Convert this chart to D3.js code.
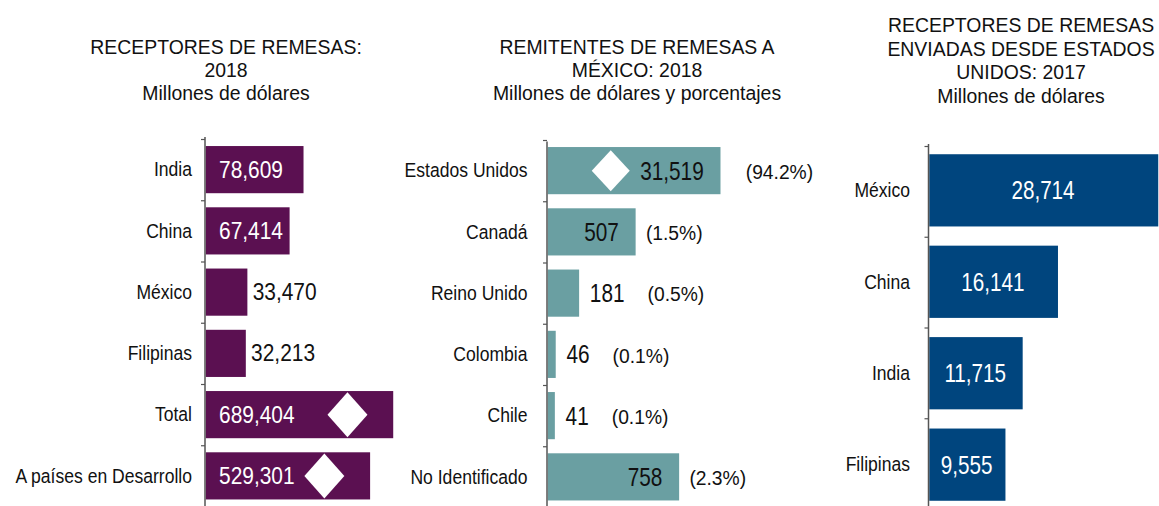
<!DOCTYPE html>
<html>
<head>
<meta charset="utf-8">
<script src="https://cdn.jsdelivr.net/npm/d3@7/dist/d3.min.js"></script>
<style>
  body { margin: 0; background: #fff; }
  svg { display: block; font-family: "Liberation Sans", Arial, sans-serif; }
</style>
</head>
<body>
<svg id="chart" width="1159" height="506"></svg>
<script>
// panel 1: receptores de remesas 2018
var cats1 = ["India", "China", "México", "Filipinas", "Total", "A países en Desarrollo"]
var vals1 = [78609, 67414, 33470, 32213, 689404, 529301]
var broken1 = ["Total", "A países en Desarrollo"]
var title1 = ["RECEPTORES DE REMESAS:", "2018", "Millones de dólares"]

// panel 2: remitentes de remesas a México 2018
var cats2 = ["Estados Unidos", "Canadá", "Reino Unido", "Colombia", "Chile", "No Identificado"]
var vals2 = [31519, 507, 181, 46, 41, 758]
var pcts2 = [94.2, 1.5, 0.5, 0.1, 0.1, 2.3]
var broken2 = ["Estados Unidos"]
var title2 = ["REMITENTES DE REMESAS A", "MÉXICO: 2018", "Millones de dólares y porcentajes"]

// panel 3: receptores de remesas desde EU 2017
var cats3 = ["México", "China", "India", "Filipinas"]
var vals3 = [28714, 16141, 11715, 9555]
var title3 = ["RECEPTORES DE REMESAS", "ENVIADAS DESDE ESTADOS", "UNIDOS: 2017", "Millones de dólares"]

var svg = d3.select("#chart")
var fmt = d3.format(",")

// narrow text: the source font is condensed, so squeeze Liberation Sans
function label(g, x, y, str, size, sx, anchor, color){
	return g.append("text")
		.attr("transform", "translate(" + x + "," + y + ") scale(" + sx + ",1)")
		.attr("font-size", size)
		.attr("text-anchor", anchor)
		.attr("dy", "0.35em")
		.attr("fill", color)
		.text(str)
}
function textWidth(t, sx){ return t.node().getComputedTextLength() * sx }

function diamond(g, cx, cy, w, h){
	g.append("path")
		.attr("d", "M" + (cx - w/2) + "," + cy + "L" + cx + "," + (cy - h/2) +
			"L" + (cx + w/2) + "," + cy + "L" + cx + "," + (cy + h/2) + "Z")
		.attr("fill", "#fff")
}

function title(lines, cx, y0, step){
	lines.forEach(function(s, i){
		label(svg, cx, y0 + i*step, s, 21, 0.925, "middle", "#111")
	})
}

function axis(g, x0, y, n, top){
	var t = d3.scaleLinear().domain([0, n]).range(y.range())
	g.append("g")
		.attr("transform", "translate(" + x0 + ",0)")
		.call(d3.axisLeft(t).ticks(n).tickValues(d3.range(n + 1)).tickSize(4).tickSizeOuter(0).tickFormat(""))
		.call(function(a){
			a.select(".domain").attr("stroke", "#555").attr("stroke-width", 1.5)
				.attr("d", "M0," + top + "V" + (y.range()[1] + 4))
			a.selectAll(".tick line").attr("stroke", "#555").attr("stroke-width", 1.2)
		})
}

// ---------- panel 1 ----------
var g1 = svg.append("g")
var ax1 = 205
var y1 = d3.scaleBand().domain(cats1).range([139, 506.5]).paddingInner(0.23).paddingOuter(0.115)
var x1 = d3.scaleLinear().domain([0, 80000, 700000]).range([0, 99.5, 189])

g1.selectAll("rect").data(vals1).enter().append("rect")
	.attr("x", ax1 + 0.75)
	.attr("y", function(d, i){ return y1(cats1[i]) })
	.attr("width", function(d){ return x1(d) })
	.attr("height", y1.bandwidth())
	.attr("fill", "#5b1051")

cats1.forEach(function(c, i){
	var cy = y1(c) + y1.bandwidth()/2
	label(g1, ax1 - 13, cy, c, 19.5, 0.9, "end", "#111")
	var w = x1(vals1[i])
	if (broken1.indexOf(c) >= 0) diamond(g1, ax1 + w - 45, cy, 40, 45)
	if (w > 80) label(g1, ax1 + 14, cy, fmt(vals1[i]), 23, 0.91, "start", "#fff")
	else label(g1, ax1 + w + 6, cy, fmt(vals1[i]), 23, 0.91, "start", "#111")
})
axis(g1, ax1, y1, cats1.length, 137)

// ---------- panel 2 ----------
var g2 = svg.append("g")
var ax2 = 547
var y2 = d3.scaleBand().domain(cats2).range([140, 507.5]).paddingInner(0.23).paddingOuter(0.115)
var x2 = d3.scaleLinear().domain([0, 900, 32000]).range([0, 156, 173])

g2.selectAll("rect").data(vals2).enter().append("rect")
	.attr("x", ax2 + 0.75)
	.attr("y", function(d, i){ return y2(cats2[i]) })
	.attr("width", function(d){ return x2(d) })
	.attr("height", y2.bandwidth())
	.attr("fill", "#6a9fa2")

cats2.forEach(function(c, i){
	var cy = y2(c) + y2.bandwidth()/2
	label(g2, ax2 - 19.5, cy, c, 19.5, 0.9, "end", "#111")
	var end = ax2 + x2(vals2[i])
	if (broken2.indexOf(c) >= 0) diamond(g2, end - 109, cy, 38, 41)
	var pctX
	if (x2(vals2[i]) > 60) {
		label(g2, end - 16, cy, fmt(vals2[i]), 26, 0.8, "end", "#111")
		pctX = end + (broken2.indexOf(c) >= 0 ? 26 : 11)
	} else {
		var t = label(g2, end + 11.5, cy, fmt(vals2[i]), 26, 0.8, "start", "#111")
		pctX = end + 11.5 + textWidth(t, 0.8) + 23
	}
	label(g2, pctX, cy + 1, "(" + pcts2[i].toFixed(1) + "%)", 20.5, 0.94, "start", "#111")
})
axis(g2, ax2, y2, cats2.length, 141.5)

// ---------- panel 3 ----------
var g3 = svg.append("g")
var ax3 = 928.5
var y3 = d3.scaleBand().domain(cats3).range([146, 509]).paddingInner(0.21).paddingOuter(0.09)
var x3 = d3.scaleLinear().domain([0, 28714]).range([0, 229])

g3.selectAll("rect").data(vals3).enter().append("rect")
	.attr("x", ax3 + 0.75)
	.attr("y", function(d, i){ return y3(cats3[i]) })
	.attr("width", function(d){ return x3(d) })
	.attr("height", y3.bandwidth())
	.attr("fill", "#00457e")

cats3.forEach(function(c, i){
	var cy = y3(c) + y3.bandwidth()/2
	label(g3, ax3 - 18.5, cy, c, 19.5, 0.9, "end", "#111")
	label(g3, ax3 + x3(vals3[i])/2, cy, fmt(vals3[i]), 25.5, 0.81, "middle", "#fff")
})
axis(g3, ax3, y3, cats3.length, 144)

// titles
title(title1, 226, 47, 23)
title(title2, 637, 47, 23)
title(title3, 1021, 25, 23.5)
</script>
</body>
</html>
